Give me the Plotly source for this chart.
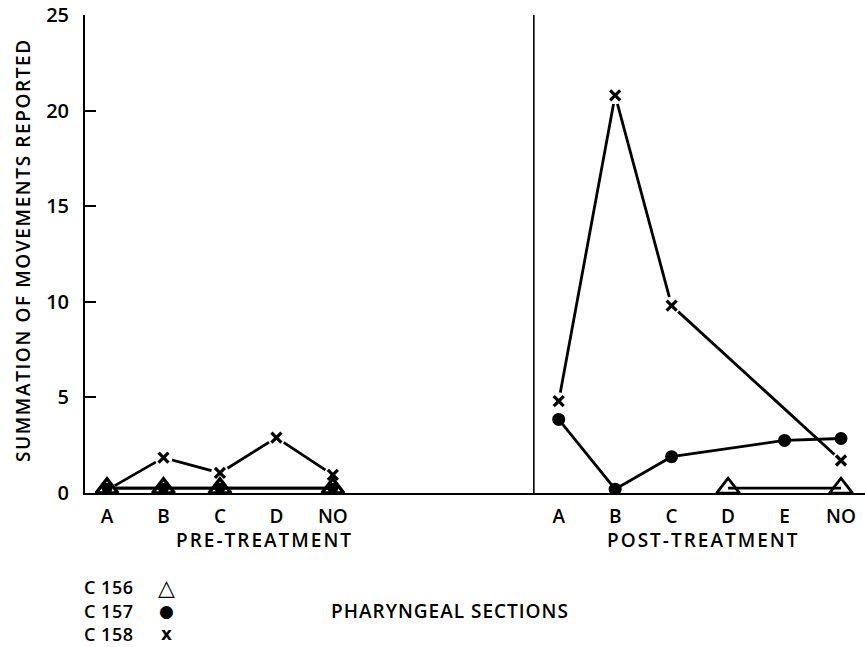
import plotly.graph_objects as go

# Pharyngeal sections and their slot positions along the x axis
pre_sections = ["A", "B", "C", "D", "NO"]
post_sections = ["A", "B", "C", "D", "E", "NO"]
pre_pos = [0, 1, 2, 3, 4]
post_pos = [8, 9, 10, 11, 12, 13]
divider_pos = 7.56

# Summation of movements reported per section (None = not plotted)
c156_pre = [0.25, 0.25, 0.25, None, 0.25]
c157_pre = [0.25, 0.25, 0.25, None, 0.25]
c158_pre = [0.15, 1.85, 1.05, 2.9, 0.95]

c156_post = [None, None, None, 0.25, None, 0.25]
c157_post = [3.85, 0.2, 1.9, None, 2.75, 2.85]
c158_post = [4.8, 20.8, 9.8, None, None, 1.7]

y_ticks = [0, 5, 10, 15, 20, 25]

FONT = "Open Sans"
SYMBOL_FONT = "DejaVu Sans"
WEIGHT = 600
INK = "black"
W, H = 865, 647
L, R, T, B = 85, 0, 15, 154


def px_to_paper(px, py):
    return (px - L) / (W - L - R), (H - B - py) / (H - T - B)


fig = go.Figure()

xs = pre_pos + post_pos
line_style = dict(color=INK, width=2.8)

# connecting lines (one trace per group so pre and post stay separate)
for vals, pos in [(c156_pre, pre_pos), (c157_pre, pre_pos), (c158_pre, pre_pos),
                  (c156_post, post_pos), (c157_post, post_pos), (c158_post, post_pos)]:
    fig.add_trace(go.Scatter(x=pos, y=vals, mode="lines", line=line_style,
                             connectgaps=True, showlegend=False, hoverinfo="skip"))

# white halos leave a small gap where the C 158 lines meet their markers
for vals, pos in [(c158_pre, pre_pos), (c158_post, post_pos)]:
    fig.add_trace(go.Scatter(x=pos, y=vals, mode="markers",
                             marker=dict(symbol="circle", size=18, color="white"),
                             showlegend=False, hoverinfo="skip"))

# C 157 — filled dots
for vals, pos, sz in [(c157_pre, pre_pos, 11), (c157_post, post_pos, 13)]:
    fig.add_trace(go.Scatter(x=pos, y=vals, mode="markers",
                             marker=dict(symbol="circle", size=sz, color=INK),
                             showlegend=False, hoverinfo="skip"))

# C 156 — open triangles (pre-treatment ones sit over the C 157 dots)
for vals, pos, sz, lw in [(c156_pre, pre_pos, 19, 3.4), (c156_post, post_pos, 20, 2.8)]:
    fig.add_trace(go.Scatter(x=pos, y=vals, mode="markers",
                             marker=dict(symbol="triangle-up-open", size=sz,
                                         color=INK, line=dict(width=lw, color=INK)),
                             showlegend=False, hoverinfo="skip"))

# C 158 — crosses
for vals, pos in [(c158_pre, pre_pos), (c158_post, post_pos)]:
    fig.add_trace(go.Scatter(x=pos, y=vals, mode="markers",
                             marker=dict(symbol="x-thin-open", size=10,
                                         color=INK, line=dict(width=3.2, color=INK)),
                             showlegend=False, hoverinfo="skip"))

# vertical divider between the two treatment periods
fig.add_shape(type="line", xref="x", yref="paper", x0=divider_pos, x1=divider_pos,
              y0=0, y1=1, line=dict(color=INK, width=1.6))

annotations = []


def add_text(text, px, py, size=19, xanchor="center", angle=0, spacing=0,
             family=FONT, weight=WEIGHT):
    ax, ay = px_to_paper(px, py)
    if spacing:
        text = f'<span style="letter-spacing:{spacing}px">{text}</span>'
    annotations.append(dict(text=text, x=ax, y=ay, xref="paper", yref="paper",
                            showarrow=False, xanchor=xanchor, yanchor="middle",
                            textangle=angle,
                            font=dict(family=family, size=size, color=INK, weight=weight)))


add_text("SUMMATION OF MOVEMENTS REPORTED", 23, 250, size=19, angle=-90, spacing=1.6)
add_text("PRE-TREATMENT", 264, 540, size=19, spacing=2)
add_text("POST-TREATMENT", 703, 540, size=19, spacing=2)
add_text("PHARYNGEAL SECTIONS", 450, 611, size=19, spacing=1)

legend_rows = [("C 156", "△", 587), ("C 157", "●", 611), ("C 158", "x", 634)]
symbol_sizes = {"△": 22, "●": 17, "x": 17}
for label, sym, py in legend_rows:
    add_text(label, 82, py, size=18, xanchor="left", spacing=0.5)
    add_text(sym, 166, py, size=symbol_sizes[sym], family=SYMBOL_FONT,
             weight="bold" if sym == "x" else "normal")

fig.update_layout(
    width=W, height=H,
    margin=dict(l=L, r=R, t=T, b=B),
    paper_bgcolor="white", plot_bgcolor="white",
    annotations=annotations,
    xaxis=dict(
        range=[-0.39, 13.425],
        tickvals=xs, ticktext=pre_sections + post_sections,
        showgrid=False, zeroline=False,
        showline=True, linecolor=INK, linewidth=2,
        ticks="", ticklabelstandoff=5,
        tickfont=dict(family=FONT, size=19, color=INK, weight=WEIGHT),
    ),
    yaxis=dict(
        range=[0, 25],
        tickvals=y_ticks,
        showgrid=False, zeroline=False,
        showline=True, linecolor=INK, linewidth=2,
        ticks="inside", ticklen=11, tickwidth=1.8, tickcolor=INK,
        ticklabelstandoff=10,
        tickfont=dict(family=FONT, size=20, color=INK, weight=WEIGHT),
    ),
)

fig.write_html("out.html")
